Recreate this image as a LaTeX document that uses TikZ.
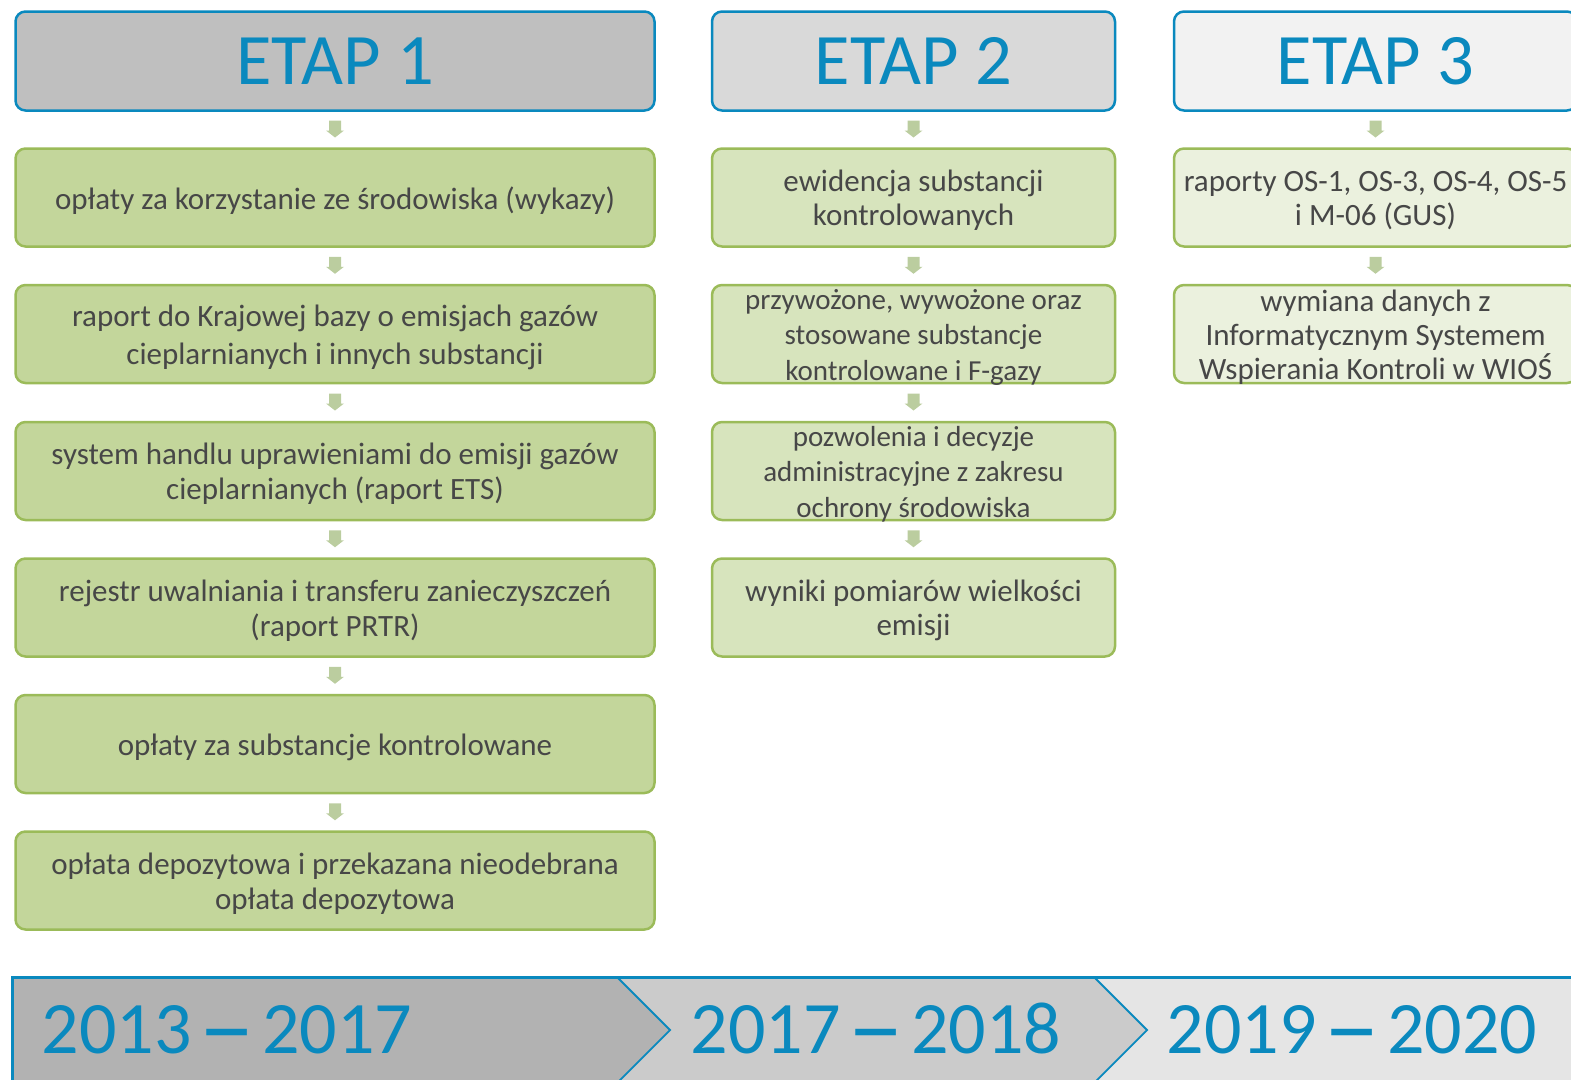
\documentclass[tikz,border=0pt]{standalone}
\usepackage{fontspec}
\setmainfont{Carlito}
\usetikzlibrary{calc}
\definecolor{hblue}{HTML}{0A89BE}
\definecolor{gborder}{HTML}{9BBB59}
\definecolor{gA}{HTML}{C3D69B}
\definecolor{gB}{HTML}{D7E4BD}
\definecolor{gC}{HTML}{EBF1DE}
\definecolor{hA}{HTML}{BFBFBF}
\definecolor{hB}{HTML}{D9D9D9}
\definecolor{hC}{HTML}{F2F2F2}
\definecolor{barA}{HTML}{B2B2B2}
\definecolor{barB}{HTML}{CBCBCB}
\definecolor{barC}{HTML}{E5E5E5}
\definecolor{arrc}{HTML}{BBCD9F}
\definecolor{tgray}{HTML}{474747}
\newcommand\downarr[2]{\fill[arrc] ($(#1.south)!0.5!(#2.north)$) ++(-6,-9) -- ++(0,10) -- ++(-3,0) -- ++(9,7) -- ++(9,-7) -- ++(-3,0) -- ++(0,-10) -- cycle;}
% box node (#2) with style #1 at #3, its text node (#2t) with extra style #4 and text #5
\newcommand\bx[5]{\node[#1] (#2) at (#3) {}; \node[txt,#4] (#2t) at ([yshift=-3pt]#2.center) {#5};}
\newcommand\yrdash{\hspace{-10pt}\scalebox{1.55}[1]{\bfseries –}\hspace{-10pt}}
\begin{document}
\begin{tikzpicture}[x=1pt,y=-1pt,
  hdr/.style={draw=hblue, line width=2.5pt, rounded corners=10pt, minimum height=99pt, inner sep=0pt, text=hblue, font=\fontsize{72.5}{80}\selectfont},
  box/.style={draw=gborder, line width=2.5pt, rounded corners=10pt, minimum height=98pt, inner sep=0pt},
  colA/.style={minimum width=639pt},
  colB/.style={minimum width=403pt},
  bA/.style={box, colA, fill=gA},
  bB/.style={box, colB, fill=gB},
  bC/.style={box, colB, fill=gC},
  txt/.style={inner sep=0pt, align=center, text=tgray, font=\fontsize{31}{35}\selectfont},
  tB/.style={font=\fontsize{31}{34}\selectfont},
  small/.style={font=\fontsize{29}{35.5}\selectfont},
  wide/.style={font=\fontsize{31}{38}\selectfont},
  yr/.style={anchor=base, text=hblue, font=\fontsize{74}{80}\selectfont, inner sep=0pt}
]
\useasboundingbox (0,0) rectangle (1571,1079);
\clip (0,0) rectangle (1571,1079);
% headers
\node[hdr, colA, fill=hA] (h1) at (335,61) {ETAP 1};
\node[hdr, colB, fill=hB] (h2) at (913.5,61) {ETAP 2};
\node[hdr, colB, fill=hC] (h3) at (1375.5,61) {ETAP 3};
% column 1
\bx{bA}{a1}{335,197.5}{}{opłaty za korzystanie ze środowiska (wykazy)}
\bx{bA}{a2}{335,334}{wide}{raport do Krajowej bazy o emisjach gazów\\cieplarnianych i innych substancji}
\bx{bA}{a3}{335,471}{}{system handlu uprawieniami do emisji gazów\\cieplarnianych (raport ETS)}
\bx{bA}{a4}{335,607.5}{}{rejestr uwalniania i transferu zanieczyszczeń\\(raport PRTR)}
\bx{bA}{a5}{335,744}{}{opłaty za substancje kontrolowane}
\bx{bA}{a6}{335,880.5}{}{opłata depozytowa i przekazana nieodebrana\\opłata depozytowa}
% column 2
\bx{bB}{b1}{913.5,197.5}{tB}{ewidencja substancji\\kontrolowanych}
\bx{bB}{b2}{913.5,334}{small}{przywożone, wywożone oraz\\stosowane substancje\\kontrolowane i F-gazy}
\bx{bB}{b3}{913.5,471}{small}{pozwolenia i decyzje\\administracyjne z zakresu\\ochrony środowiska}
\bx{bB}{b4}{913.5,607.5}{tB}{wyniki pomiarów wielkości\\emisji}
% column 3
\bx{bC}{c1}{1375.5,197.5}{tB}{raporty OS-1, OS-3, OS-4, OS-5\\i M-06 (GUS)}
\bx{bC}{c2}{1375.5,334}{tB}{wymiana danych z\\Informatycznym Systemem\\Wspierania Kontroli w WIOŚ}
% arrows
\downarr{h1}{a1}\downarr{a1}{a2}\downarr{a2}{a3}\downarr{a3}{a4}\downarr{a4}{a5}\downarr{a5}{a6}
\downarr{h2}{b1}\downarr{b1}{b2}\downarr{b2}{b3}\downarr{b3}{b4}
\downarr{h3}{c1}\downarr{c1}{c2}
% timeline bar
\fill[barA] (12,977) -- (617,977) -- (670,1030) -- (617,1083) -- (12,1083) -- cycle;
\fill[barB] (617,977) -- (1094,977) -- (1147,1030) -- (1094,1083) -- (617,1083) -- (670,1030) -- cycle;
\fill[barC] (1094,977) -- (1590,977) -- (1590,1083) -- (1094,1083) -- (1147,1030) -- cycle;
\draw[hblue, line width=1.8pt] (617,977) -- (670,1030) -- (617,1083);
\draw[hblue, line width=1.8pt] (1094,977) -- (1147,1030) -- (1094,1083);
\draw[hblue, line width=3pt] (12,1090) -- (12,977) -- (1590,977);
\node[yr] (y1) at (227,1053) {2013 \yrdash{} 2017};
\node[yr] (y2) at (876,1053) {2017 \yrdash{} 2018};
\node[yr] (y3) at (1352,1053) {2019 \yrdash{} 2020};
\end{tikzpicture}
\end{document}
